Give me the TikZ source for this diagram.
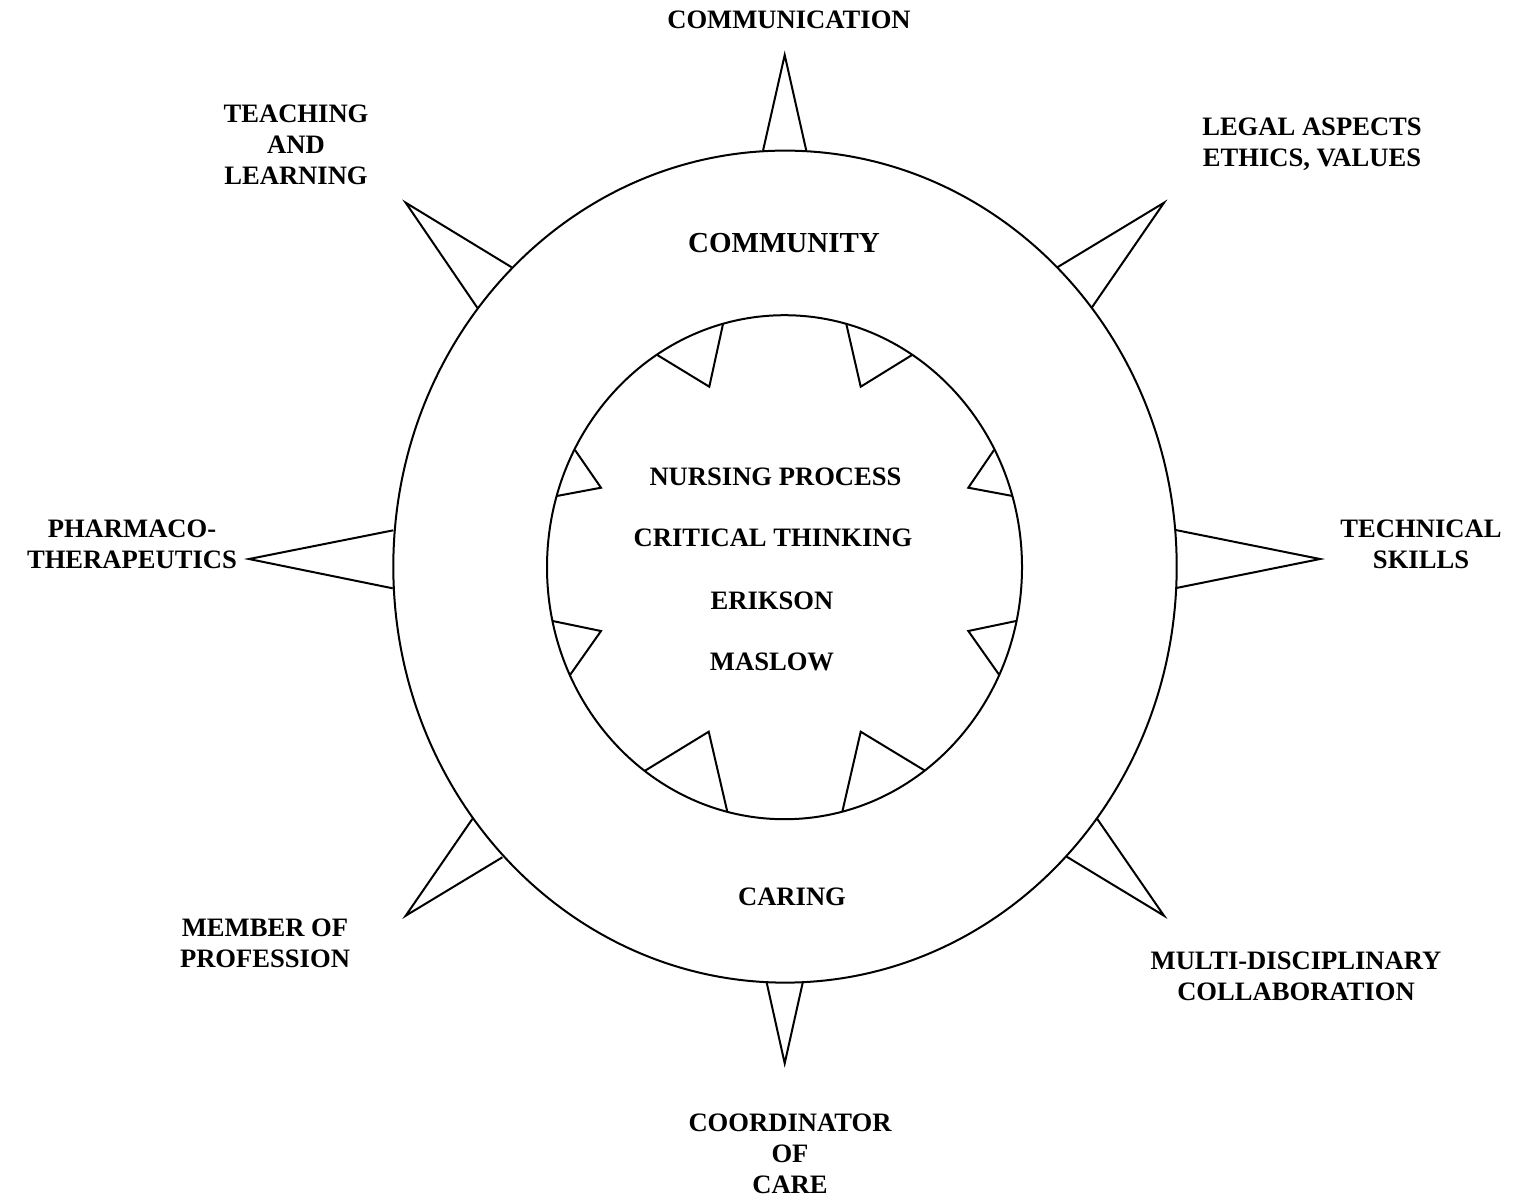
\documentclass[tikz,border=0pt]{standalone}
\usepackage{fontspec}
\setmainfont{Liberation Serif}

\tikzset{
  ring/.style={line width=1pt},
  spike/.style={line width=1pt, line join=miter},
  lbl/.style={font=\fontsize{13.3}{15.5}\selectfont\bfseries, align=center, inner sep=0pt},
  biglbl/.style={font=\fontsize{14.5}{17}\selectfont\bfseries, align=center, inner sep=0pt}
}

\begin{document}
\begin{tikzpicture}[x=0.5pt, y=-0.5pt]
    \useasboundingbox (0,0) rectangle (1519,1196);

    % rings
    \coordinate (c) at (785,566.6);
    \coordinate (ci) at (784.5,567.2);
    \draw[ring] (c) ellipse [x radius=391.7, y radius=416];
    \draw[ring] (ci) ellipse [x radius=237.5, y radius=252];

    % outer spikes
    \draw[spike] (763,150.7) -- (784.7,55) -- (806.3,150.7);
    \draw[spike] (1057.3,267.3) -- (1164,202.7) -- (1091.7,307.7);
    \draw[spike] (1175.7,530) -- (1320,559) -- (1176.3,588);
    \draw[spike] (1097.3,819) -- (1164,915.7) -- (1066.7,856.7);
    \draw[spike] (766.7,982.7) -- (784.7,1063.3) -- (802.7,982.7);
    \draw[spike] (472.3,819) -- (405.7,915.7) -- (502.3,857.3);
    \draw[spike] (393.3,530.3) -- (249,559) -- (392.7,588.3);
    \draw[spike] (511.7,267.3) -- (405.7,202.7) -- (477.3,307.7);

    % inner teeth
    \draw[spike] (657.3,355) -- (709.3,386.7) -- (723,324);
    \draw[spike] (846.3,324) -- (860.7,386.7) -- (912,355);
    \draw[spike] (994,450) -- (968.3,487.7) -- (1012.7,496);
    \draw[spike] (1016,621) -- (968.3,631) -- (999.3,675);
    \draw[spike] (842.3,811.7) -- (860.7,731.7) -- (925,770.7);
    \draw[spike] (645,770.7) -- (708.7,731.7) -- (727.3,811.7);
    \draw[spike] (552.7,621) -- (601,631) -- (570,675);
    \draw[spike] (575,450) -- (601,487.7) -- (556.7,496);

    % outer labels
    \node[lbl] (communication) at (789,20) {COMMUNICATION};
    \node[lbl] (legal) at (1312,144.5) {LEGAL ASPECTS\\ETHICS, VALUES};
    \node[lbl] (technical) at (1421,544.5) {TECHNICAL\\SKILLS};
    \node[lbl] (multi) at (1296,976.5) {MULTI-DISCIPLINARY\\COLLABORATION};
    \node[lbl] (coordinator) at (790,1153.5) {COORDINATOR\\OF\\CARE};
    \node[lbl] (member) at (265,943.5) {MEMBER OF\\PROFESSION};
    \node[lbl] (pharmaco) at (132,544.5) {PHARMACO-\\THERAPEUTICS};
    \node[lbl] (teaching) at (296,145) {TEACHING\\AND\\LEARNING};

    % ring labels
    \node[biglbl] (community) at (784,243) {COMMUNITY};
    \node[lbl] (caring) at (792,897) {CARING};

    % centre
    \node[lbl] (nursing) at (775.5,476.7) {NURSING PROCESS};
    \node[lbl] (critical) at (773,538) {CRITICAL THINKING};
    \node[lbl] (erikson) at (772,601) {ERIKSON};
    \node[lbl] (maslow) at (772,661.7) {MASLOW};
\end{tikzpicture}
\end{document}
